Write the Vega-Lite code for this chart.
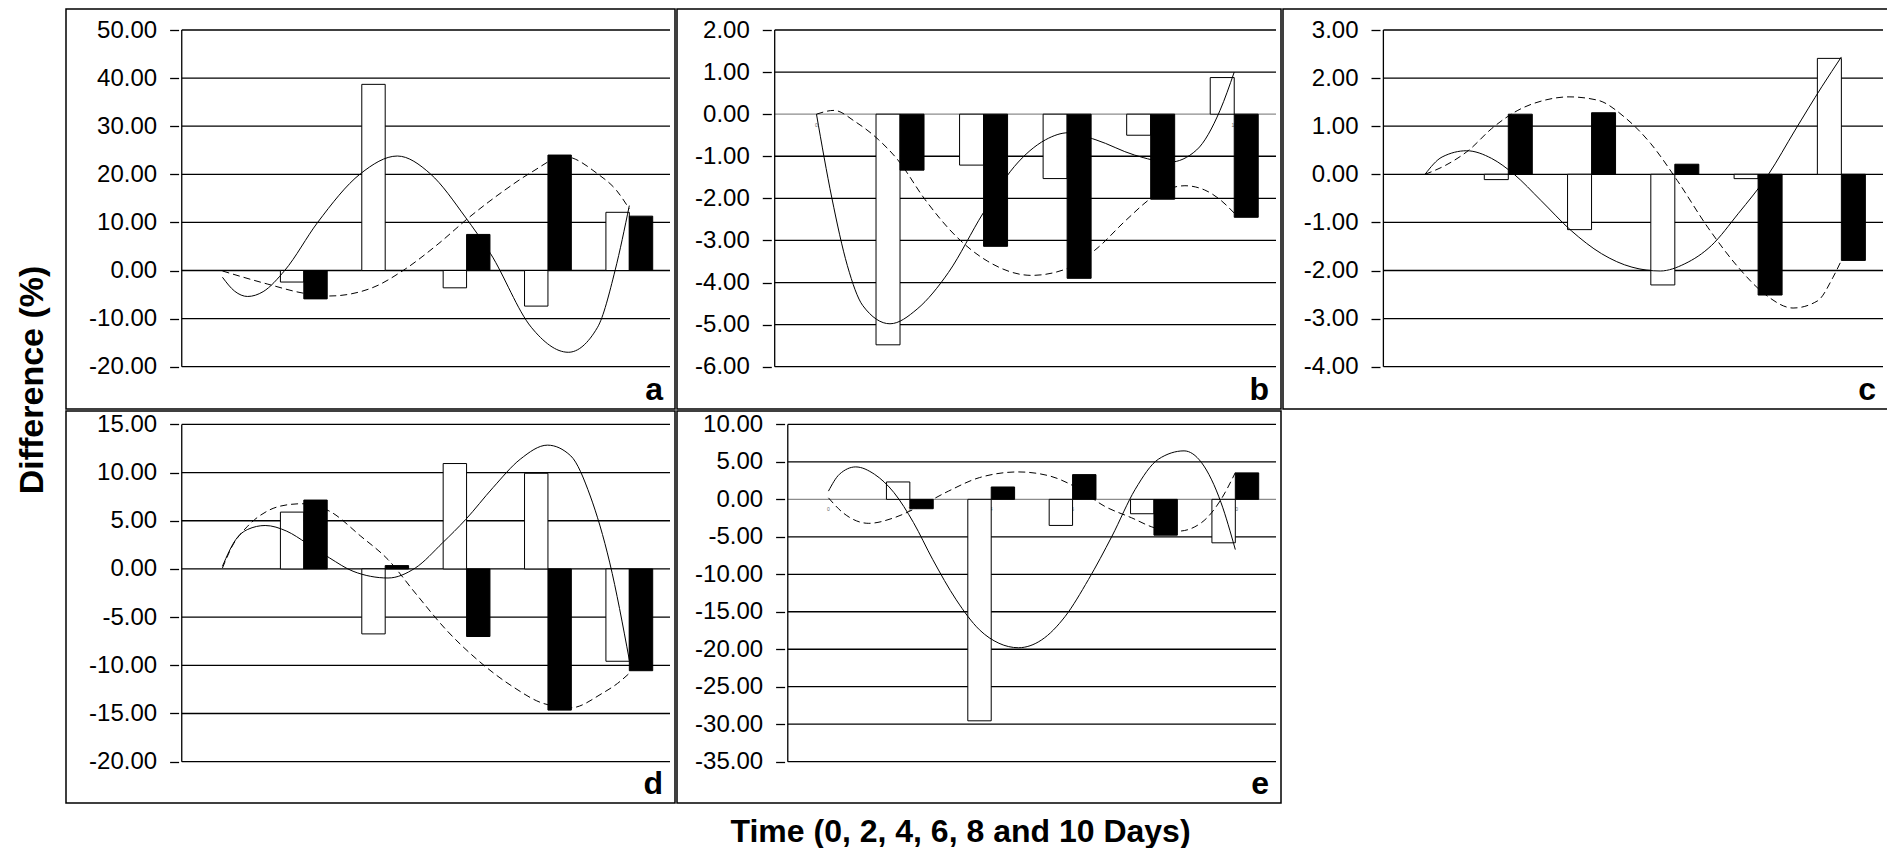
{
  "$schema": "https://vega.github.io/schema/vega-lite/v6.json",
  "background": "white",
  "padding": {"left": 16, "top": 8, "right": 0, "bottom": 0},
  "autosize": {"type": "pad"},
  "title": {"text": "Time (0, 2, 4, 6, 8 and 10 Days)", "orient": "bottom", "anchor": "middle", "fontSize": 32, "fontWeight": "bold", "font": "Liberation Sans", "color": "black", "offset": 13, "dx": 8},
  "datasets": {
    "bars": [
      {"panel": "a", "day": 2, "series": "white", "value": -2.4},
      {"panel": "a", "day": 2, "series": "black", "value": -5.9},
      {"panel": "a", "day": 4, "series": "white", "value": 38.7},
      {"panel": "a", "day": 6, "series": "white", "value": -3.6},
      {"panel": "a", "day": 6, "series": "black", "value": 7.5},
      {"panel": "a", "day": 8, "series": "white", "value": -7.4},
      {"panel": "a", "day": 8, "series": "black", "value": 24.0},
      {"panel": "a", "day": 10, "series": "white", "value": 12.1},
      {"panel": "a", "day": 10, "series": "black", "value": 11.3},
      {"panel": "b", "day": 2, "series": "white", "value": -5.48},
      {"panel": "b", "day": 2, "series": "black", "value": -1.33},
      {"panel": "b", "day": 4, "series": "white", "value": -1.21},
      {"panel": "b", "day": 4, "series": "black", "value": -3.14},
      {"panel": "b", "day": 6, "series": "white", "value": -1.53},
      {"panel": "b", "day": 6, "series": "black", "value": -3.9},
      {"panel": "b", "day": 8, "series": "white", "value": -0.5},
      {"panel": "b", "day": 8, "series": "black", "value": -2.02},
      {"panel": "b", "day": 10, "series": "white", "value": 0.87},
      {"panel": "b", "day": 10, "series": "black", "value": -2.45},
      {"panel": "c", "day": 2, "series": "white", "value": -0.11},
      {"panel": "c", "day": 2, "series": "black", "value": 1.25},
      {"panel": "c", "day": 4, "series": "white", "value": -1.15},
      {"panel": "c", "day": 4, "series": "black", "value": 1.28},
      {"panel": "c", "day": 6, "series": "white", "value": -2.3},
      {"panel": "c", "day": 6, "series": "black", "value": 0.21},
      {"panel": "c", "day": 8, "series": "white", "value": -0.09},
      {"panel": "c", "day": 8, "series": "black", "value": -2.51},
      {"panel": "c", "day": 10, "series": "white", "value": 2.41},
      {"panel": "c", "day": 10, "series": "black", "value": -1.79},
      {"panel": "d", "day": 2, "series": "white", "value": 5.9},
      {"panel": "d", "day": 2, "series": "black", "value": 7.15},
      {"panel": "d", "day": 4, "series": "white", "value": -6.74},
      {"panel": "d", "day": 4, "series": "black", "value": 0.35},
      {"panel": "d", "day": 6, "series": "white", "value": 10.94},
      {"panel": "d", "day": 6, "series": "black", "value": -7.01},
      {"panel": "d", "day": 8, "series": "white", "value": 9.93},
      {"panel": "d", "day": 8, "series": "black", "value": -14.65},
      {"panel": "d", "day": 10, "series": "white", "value": -9.58},
      {"panel": "d", "day": 10, "series": "black", "value": -10.56},
      {"panel": "e", "day": 2, "series": "white", "value": 2.32},
      {"panel": "e", "day": 2, "series": "black", "value": -1.25},
      {"panel": "e", "day": 4, "series": "white", "value": -29.55},
      {"panel": "e", "day": 4, "series": "black", "value": 1.65},
      {"panel": "e", "day": 6, "series": "white", "value": -3.48},
      {"panel": "e", "day": 6, "series": "black", "value": 3.3},
      {"panel": "e", "day": 8, "series": "white", "value": -1.92},
      {"panel": "e", "day": 8, "series": "black", "value": -4.78},
      {"panel": "e", "day": 10, "series": "white", "value": -5.8},
      {"panel": "e", "day": 10, "series": "black", "value": 3.53}
    ],
    "curves": [
      {"panel": "a", "curve": "solid", "day": 0, "value": -1.4},
      {"panel": "a", "curve": "solid", "day": 0.3, "value": -4.3},
      {"panel": "a", "curve": "solid", "day": 0.62, "value": -5.4},
      {"panel": "a", "curve": "solid", "day": 1.0, "value": -4.4},
      {"panel": "a", "curve": "solid", "day": 1.53, "value": 0},
      {"panel": "a", "curve": "solid", "day": 2.34, "value": 10},
      {"panel": "a", "curve": "solid", "day": 3.39, "value": 20.1},
      {"panel": "a", "curve": "solid", "day": 4.3, "value": 23.8},
      {"panel": "a", "curve": "solid", "day": 5.11, "value": 20.1},
      {"panel": "a", "curve": "solid", "day": 5.97, "value": 11.1},
      {"panel": "a", "curve": "solid", "day": 6.59, "value": 3.5},
      {"panel": "a", "curve": "solid", "day": 7.59, "value": -11.8},
      {"panel": "a", "curve": "solid", "day": 8.5, "value": -17.0},
      {"panel": "a", "curve": "solid", "day": 9.22, "value": -11.8},
      {"panel": "a", "curve": "solid", "day": 9.65, "value": 0},
      {"panel": "a", "curve": "solid", "day": 10, "value": 13.5},
      {"panel": "a", "curve": "dashed", "day": 0, "value": -0.1},
      {"panel": "a", "curve": "dashed", "day": 1.1, "value": -2.8},
      {"panel": "a", "curve": "dashed", "day": 2.05, "value": -4.8},
      {"panel": "a", "curve": "dashed", "day": 2.63, "value": -5.3},
      {"panel": "a", "curve": "dashed", "day": 3.68, "value": -3.6},
      {"panel": "a", "curve": "dashed", "day": 4.44, "value": 0},
      {"panel": "a", "curve": "dashed", "day": 5.3, "value": 5.5},
      {"panel": "a", "curve": "dashed", "day": 6.07, "value": 11.1},
      {"panel": "a", "curve": "dashed", "day": 6.92, "value": 16.6},
      {"panel": "a", "curve": "dashed", "day": 7.59, "value": 20.4},
      {"panel": "a", "curve": "dashed", "day": 8.4, "value": 23.7},
      {"panel": "a", "curve": "dashed", "day": 9.22, "value": 20.1},
      {"panel": "a", "curve": "dashed", "day": 9.69, "value": 16.6},
      {"panel": "a", "curve": "dashed", "day": 10, "value": 12.8},
      {"panel": "b", "curve": "solid", "day": 0, "value": 0},
      {"panel": "b", "curve": "solid", "day": 0.37, "value": -2.0},
      {"panel": "b", "curve": "solid", "day": 0.74, "value": -3.6},
      {"panel": "b", "curve": "solid", "day": 1.11, "value": -4.55},
      {"panel": "b", "curve": "solid", "day": 1.76, "value": -4.98},
      {"panel": "b", "curve": "solid", "day": 2.41, "value": -4.63},
      {"panel": "b", "curve": "solid", "day": 3.16, "value": -3.76},
      {"panel": "b", "curve": "solid", "day": 3.99, "value": -2.35},
      {"panel": "b", "curve": "solid", "day": 4.74, "value": -1.24},
      {"panel": "b", "curve": "solid", "day": 5.48, "value": -0.61},
      {"panel": "b", "curve": "solid", "day": 6.04, "value": -0.44},
      {"panel": "b", "curve": "solid", "day": 6.69, "value": -0.61},
      {"panel": "b", "curve": "solid", "day": 7.61, "value": -0.97},
      {"panel": "b", "curve": "solid", "day": 8.45, "value": -1.14},
      {"panel": "b", "curve": "solid", "day": 9.1, "value": -0.85},
      {"panel": "b", "curve": "solid", "day": 9.66, "value": 0.09},
      {"panel": "b", "curve": "solid", "day": 10, "value": 1.0},
      {"panel": "b", "curve": "dashed", "day": 0, "value": 0},
      {"panel": "b", "curve": "dashed", "day": 0.42, "value": 0.09},
      {"panel": "b", "curve": "dashed", "day": 0.93, "value": -0.18},
      {"panel": "b", "curve": "dashed", "day": 1.49, "value": -0.61},
      {"panel": "b", "curve": "dashed", "day": 1.95, "value": -1.09},
      {"panel": "b", "curve": "dashed", "day": 2.6, "value": -2.03},
      {"panel": "b", "curve": "dashed", "day": 3.34, "value": -2.9},
      {"panel": "b", "curve": "dashed", "day": 4.09, "value": -3.49},
      {"panel": "b", "curve": "dashed", "day": 5.15, "value": -3.83},
      {"panel": "b", "curve": "dashed", "day": 5.94, "value": -3.69},
      {"panel": "b", "curve": "dashed", "day": 6.69, "value": -3.21},
      {"panel": "b", "curve": "dashed", "day": 7.43, "value": -2.5},
      {"panel": "b", "curve": "dashed", "day": 8.08, "value": -1.95},
      {"panel": "b", "curve": "dashed", "day": 8.82, "value": -1.7},
      {"panel": "b", "curve": "dashed", "day": 9.29, "value": -1.8},
      {"panel": "b", "curve": "dashed", "day": 9.66, "value": -2.03},
      {"panel": "b", "curve": "dashed", "day": 10, "value": -2.35},
      {"panel": "c", "curve": "solid", "day": 0, "value": 0},
      {"panel": "c", "curve": "solid", "day": 0.41, "value": 0.36},
      {"panel": "c", "curve": "solid", "day": 1.0, "value": 0.49},
      {"panel": "c", "curve": "solid", "day": 1.6, "value": 0.33},
      {"panel": "c", "curve": "solid", "day": 2.14, "value": 0},
      {"panel": "c", "curve": "solid", "day": 2.78, "value": -0.54},
      {"panel": "c", "curve": "solid", "day": 3.51, "value": -1.17},
      {"panel": "c", "curve": "solid", "day": 4.24, "value": -1.65},
      {"panel": "c", "curve": "solid", "day": 4.97, "value": -1.93},
      {"panel": "c", "curve": "solid", "day": 5.65, "value": -2.01},
      {"panel": "c", "curve": "solid", "day": 6.24, "value": -1.86},
      {"panel": "c", "curve": "solid", "day": 6.88, "value": -1.48},
      {"panel": "c", "curve": "solid", "day": 7.52, "value": -0.82},
      {"panel": "c", "curve": "solid", "day": 8.25, "value": 0},
      {"panel": "c", "curve": "solid", "day": 8.89, "value": 0.92},
      {"panel": "c", "curve": "solid", "day": 9.53, "value": 1.82},
      {"panel": "c", "curve": "solid", "day": 10, "value": 2.44},
      {"panel": "c", "curve": "dashed", "day": 0, "value": 0},
      {"panel": "c", "curve": "dashed", "day": 0.5, "value": 0.19},
      {"panel": "c", "curve": "dashed", "day": 1.05, "value": 0.5},
      {"panel": "c", "curve": "dashed", "day": 1.6, "value": 0.95},
      {"panel": "c", "curve": "dashed", "day": 2.23, "value": 1.33},
      {"panel": "c", "curve": "dashed", "day": 2.87, "value": 1.54},
      {"panel": "c", "curve": "dashed", "day": 3.46, "value": 1.61},
      {"panel": "c", "curve": "dashed", "day": 4.15, "value": 1.54},
      {"panel": "c", "curve": "dashed", "day": 4.79, "value": 1.19},
      {"panel": "c", "curve": "dashed", "day": 5.42, "value": 0.64},
      {"panel": "c", "curve": "dashed", "day": 6.06, "value": -0.13},
      {"panel": "c", "curve": "dashed", "day": 6.79, "value": -1.1},
      {"panel": "c", "curve": "dashed", "day": 7.52, "value": -1.93},
      {"panel": "c", "curve": "dashed", "day": 8.16, "value": -2.49},
      {"panel": "c", "curve": "dashed", "day": 8.84, "value": -2.78},
      {"panel": "c", "curve": "dashed", "day": 9.43, "value": -2.63},
      {"panel": "c", "curve": "dashed", "day": 9.8, "value": -2.14},
      {"panel": "c", "curve": "dashed", "day": 10, "value": -1.79},
      {"panel": "d", "curve": "solid", "day": 0, "value": 0.28},
      {"panel": "d", "curve": "solid", "day": 0.33, "value": 3.06},
      {"panel": "d", "curve": "solid", "day": 0.62, "value": 4.1},
      {"panel": "d", "curve": "solid", "day": 1.05, "value": 4.51},
      {"panel": "d", "curve": "solid", "day": 1.58, "value": 3.92},
      {"panel": "d", "curve": "solid", "day": 2.06, "value": 2.71},
      {"panel": "d", "curve": "solid", "day": 2.63, "value": 1.15},
      {"panel": "d", "curve": "solid", "day": 3.21, "value": -0.24},
      {"panel": "d", "curve": "solid", "day": 4.07, "value": -0.94},
      {"panel": "d", "curve": "solid", "day": 4.74, "value": 0.1},
      {"panel": "d", "curve": "solid", "day": 5.41, "value": 2.71},
      {"panel": "d", "curve": "solid", "day": 5.98, "value": 5.14},
      {"panel": "d", "curve": "solid", "day": 6.65, "value": 8.44},
      {"panel": "d", "curve": "solid", "day": 7.32, "value": 11.39},
      {"panel": "d", "curve": "solid", "day": 7.99, "value": 12.85},
      {"panel": "d", "curve": "solid", "day": 8.56, "value": 11.74},
      {"panel": "d", "curve": "solid", "day": 9.04, "value": 7.57},
      {"panel": "d", "curve": "solid", "day": 9.52, "value": 0.63},
      {"panel": "d", "curve": "solid", "day": 10, "value": -9.44},
      {"panel": "d", "curve": "dashed", "day": 0, "value": 0.1},
      {"panel": "d", "curve": "dashed", "day": 0.24, "value": 2.36},
      {"panel": "d", "curve": "dashed", "day": 0.62, "value": 4.44},
      {"panel": "d", "curve": "dashed", "day": 1.1, "value": 6.0},
      {"panel": "d", "curve": "dashed", "day": 1.67, "value": 6.7},
      {"panel": "d", "curve": "dashed", "day": 1.96, "value": 6.77},
      {"panel": "d", "curve": "dashed", "day": 2.63, "value": 6.0},
      {"panel": "d", "curve": "dashed", "day": 3.4, "value": 3.4},
      {"panel": "d", "curve": "dashed", "day": 4.07, "value": 0.97},
      {"panel": "d", "curve": "dashed", "day": 4.74, "value": -2.5},
      {"panel": "d", "curve": "dashed", "day": 5.5, "value": -6.32},
      {"panel": "d", "curve": "dashed", "day": 6.27, "value": -9.44},
      {"panel": "d", "curve": "dashed", "day": 7.13, "value": -12.2},
      {"panel": "d", "curve": "dashed", "day": 7.89, "value": -13.96},
      {"panel": "d", "curve": "dashed", "day": 8.56, "value": -14.41},
      {"panel": "d", "curve": "dashed", "day": 9.33, "value": -12.92},
      {"panel": "d", "curve": "dashed", "day": 9.71, "value": -11.88},
      {"panel": "d", "curve": "dashed", "day": 10, "value": -10.83},
      {"panel": "e", "curve": "solid", "day": 0, "value": 1.1},
      {"panel": "e", "curve": "solid", "day": 0.27, "value": 3.35},
      {"panel": "e", "curve": "solid", "day": 0.67, "value": 4.33},
      {"panel": "e", "curve": "solid", "day": 1.13, "value": 3.35},
      {"panel": "e", "curve": "solid", "day": 1.61, "value": 0.9},
      {"panel": "e", "curve": "solid", "day": 2.09, "value": -3.1},
      {"panel": "e", "curve": "solid", "day": 2.56, "value": -8.0},
      {"panel": "e", "curve": "solid", "day": 3.14, "value": -13.4},
      {"panel": "e", "curve": "solid", "day": 3.71, "value": -17.4},
      {"panel": "e", "curve": "solid", "day": 4.19, "value": -19.2},
      {"panel": "e", "curve": "solid", "day": 4.67, "value": -19.8},
      {"panel": "e", "curve": "solid", "day": 5.24, "value": -18.75},
      {"panel": "e", "curve": "solid", "day": 5.82, "value": -15.6},
      {"panel": "e", "curve": "solid", "day": 6.39, "value": -10.7},
      {"panel": "e", "curve": "solid", "day": 6.97, "value": -4.9},
      {"panel": "e", "curve": "solid", "day": 7.54, "value": 1.34},
      {"panel": "e", "curve": "solid", "day": 8.11, "value": 5.36},
      {"panel": "e", "curve": "solid", "day": 8.74, "value": 6.47},
      {"panel": "e", "curve": "solid", "day": 9.17, "value": 4.9},
      {"panel": "e", "curve": "solid", "day": 9.65, "value": -0.45},
      {"panel": "e", "curve": "solid", "day": 10, "value": -6.7},
      {"panel": "e", "curve": "dashed", "day": 0, "value": 0.2},
      {"panel": "e", "curve": "dashed", "day": 0.36, "value": -1.8},
      {"panel": "e", "curve": "dashed", "day": 0.99, "value": -3.2},
      {"panel": "e", "curve": "dashed", "day": 1.61, "value": -2.46},
      {"panel": "e", "curve": "dashed", "day": 2.18, "value": -1.1},
      {"panel": "e", "curve": "dashed", "day": 2.95, "value": 1.1},
      {"panel": "e", "curve": "dashed", "day": 3.71, "value": 2.9},
      {"panel": "e", "curve": "dashed", "day": 4.67, "value": 3.66},
      {"panel": "e", "curve": "dashed", "day": 5.43, "value": 3.13},
      {"panel": "e", "curve": "dashed", "day": 6.1, "value": 1.56},
      {"panel": "e", "curve": "dashed", "day": 6.78, "value": -0.9},
      {"panel": "e", "curve": "dashed", "day": 7.45, "value": -2.46},
      {"panel": "e", "curve": "dashed", "day": 8.02, "value": -3.8},
      {"panel": "e", "curve": "dashed", "day": 8.6, "value": -4.24},
      {"panel": "e", "curve": "dashed", "day": 9.17, "value": -3.1},
      {"panel": "e", "curve": "dashed", "day": 9.65, "value": 0},
      {"panel": "e", "curve": "dashed", "day": 10, "value": 3.57}
    ],
    "grid": [
      {"panel": "a", "value": -20}, {"panel": "a", "value": -10}, {"panel": "a", "value": 0}, {"panel": "a", "value": 10}, {"panel": "a", "value": 20}, {"panel": "a", "value": 30}, {"panel": "a", "value": 40}, {"panel": "a", "value": 50},
      {"panel": "b", "value": -6}, {"panel": "b", "value": -5}, {"panel": "b", "value": -4}, {"panel": "b", "value": -3}, {"panel": "b", "value": -2}, {"panel": "b", "value": -1}, {"panel": "b", "value": 0}, {"panel": "b", "value": 1}, {"panel": "b", "value": 2},
      {"panel": "c", "value": -4}, {"panel": "c", "value": -3}, {"panel": "c", "value": -2}, {"panel": "c", "value": -1}, {"panel": "c", "value": 0}, {"panel": "c", "value": 1}, {"panel": "c", "value": 2}, {"panel": "c", "value": 3},
      {"panel": "d", "value": -20}, {"panel": "d", "value": -15}, {"panel": "d", "value": -10}, {"panel": "d", "value": -5}, {"panel": "d", "value": 0}, {"panel": "d", "value": 5}, {"panel": "d", "value": 10}, {"panel": "d", "value": 15},
      {"panel": "e", "value": -35}, {"panel": "e", "value": -30}, {"panel": "e", "value": -25}, {"panel": "e", "value": -20}, {"panel": "e", "value": -15}, {"panel": "e", "value": -10}, {"panel": "e", "value": -5}, {"panel": "e", "value": 0}, {"panel": "e", "value": 5}, {"panel": "e", "value": 10}
    ],
    "days": [{"day": 0, "label": "0"}, {"day": 2, "label": "2"}, {"day": 4, "label": "4"}, {"day": 6, "label": "6"}, {"day": 8, "label": "8"}, {"day": 10, "label": "10"}]
  },
  "vconcat": [
    {
      "title": {"text": "Difference (%)", "orient": "left", "anchor": "middle", "fontSize": 34, "fontWeight": "bold", "font": "Liberation Sans", "color": "black", "offset": 15, "dx": 26},
      "spacing": 0,
      "vconcat": [
        {
          "spacing": 0,
          "hconcat": [
            {
              "width": 609, "height": 400,
              "layer": [
                {"data": {"name": "grid"}, "transform": [{"filter": "datum.panel === 'a'"}],
                 "mark": {"type": "rule", "color": "black", "strokeWidth": 1.3},
                 "encoding": {
                   "x": {"datum": -1, "type": "quantitative", "scale": {"domain": [-3.722, 11], "nice": false, "zero": false}, "axis": null},
                   "x2": {"datum": 11},
                   "y": {"field": "value", "type": "quantitative", "scale": {"domain": [-28.794, 54.366], "nice": false, "zero": false},
                         "axis": {"values": [-20, -10, 0, 10, 20, 30, 40, 50], "labelExpr": "replace(format(datum.value, '.2f'), '\u2212', '-')", "offset": -112.6, "domain": false, "grid": false, "title": null, "tickSize": 9, "labelPadding": 13}}
                 }},
                {"data": {"values": [{"k": 1}]},
                 "mark": {"type": "rule", "color": "black", "strokeWidth": 1.3},
                 "encoding": {"x": {"datum": -1, "type": "quantitative"}, "y": {"datum": -20, "type": "quantitative"}, "y2": {"datum": 50}}},
                {"data": {"name": "bars"}, "transform": [{"filter": "datum.panel === 'a' && datum.series === 'white'"}],
                 "mark": {"type": "bar", "orient": "vertical", "width": 23.4, "xOffset": -11.7, "fill": "white", "stroke": "black", "strokeWidth": 1},
                 "encoding": {"x": {"field": "day", "type": "quantitative"}, "y": {"field": "value", "type": "quantitative"}, "y2": {"datum": 0}}},
                {"data": {"name": "bars"}, "transform": [{"filter": "datum.panel === 'a' && datum.series === 'black'"}],
                 "mark": {"type": "bar", "orient": "vertical", "width": 23.4, "xOffset": 11.7, "fill": "black", "stroke": "black", "strokeWidth": 1},
                 "encoding": {"x": {"field": "day", "type": "quantitative"}, "y": {"field": "value", "type": "quantitative"}, "y2": {"datum": 0}}},
                {"data": {"name": "curves"}, "transform": [{"filter": "datum.panel === 'a' && datum.curve === 'solid'"}],
                 "mark": {"type": "line", "interpolate": "monotone", "color": "black", "strokeWidth": 1},
                 "encoding": {"x": {"field": "day", "type": "quantitative"}, "y": {"field": "value", "type": "quantitative"}}},
                {"data": {"name": "curves"}, "transform": [{"filter": "datum.panel === 'a' && datum.curve === 'dashed'"}],
                 "mark": {"type": "line", "interpolate": "monotone", "color": "black", "strokeWidth": 1, "strokeDash": [7, 4]},
                 "encoding": {"x": {"field": "day", "type": "quantitative"}, "y": {"field": "value", "type": "quantitative"}}},
                {"data": {"values": [{"label": "a"}]},
                 "mark": {"type": "text", "align": "right", "baseline": "alphabetic", "dx": -7, "dy": -9, "fontSize": 32, "fontWeight": "bold", "font": "Liberation Sans", "color": "black"},
                 "encoding": {"x": {"datum": 11, "type": "quantitative"}, "y": {"datum": -28.794, "type": "quantitative"}, "text": {"field": "label"}}}
              ]
            },
            {
              "width": 604, "height": 400,
              "layer": [
                {"data": {"name": "grid"}, "transform": [{"filter": "datum.panel === 'b'"}],
                 "mark": {"type": "rule", "strokeWidth": 1.3},
                 "encoding": {
                   "x": {"datum": -1, "type": "quantitative", "scale": {"domain": [-3.219, 11], "nice": false, "zero": false}, "axis": null},
                   "x2": {"datum": 11},
                   "y": {"field": "value", "type": "quantitative", "scale": {"domain": [-7.005, 2.499], "nice": false, "zero": false},
                         "axis": {"values": [-6, -5, -4, -3, -2, -1, 0, 1, 2], "labelExpr": "replace(format(datum.value, '.2f'), '\u2212', '-')", "offset": -94.3, "domain": false, "grid": false, "title": null, "tickSize": 9, "labelPadding": 13}},
                   "color": {"condition": {"test": "datum.value === 0", "value": "#8c8c8c"}, "value": "black"}
                 }},
                {"data": {"values": [{"k": 1}]},
                 "mark": {"type": "rule", "color": "black", "strokeWidth": 1.3},
                 "encoding": {"x": {"datum": -1, "type": "quantitative"}, "y": {"datum": -6, "type": "quantitative"}, "y2": {"datum": 2}}},
                {"data": {"name": "days"},
                 "mark": {"type": "text", "baseline": "middle", "align": "center", "dy": 11, "fontSize": 5, "font": "Liberation Sans", "color": "#666666"},
                 "encoding": {"x": {"field": "day", "type": "quantitative"}, "y": {"datum": 0, "type": "quantitative"}, "text": {"field": "label"}}},
                {"data": {"name": "bars"}, "transform": [{"filter": "datum.panel === 'b' && datum.series === 'white'"}],
                 "mark": {"type": "bar", "orient": "vertical", "width": 24, "xOffset": -12, "fill": "white", "stroke": "black", "strokeWidth": 1},
                 "encoding": {"x": {"field": "day", "type": "quantitative"}, "y": {"field": "value", "type": "quantitative"}, "y2": {"datum": 0}}},
                {"data": {"name": "bars"}, "transform": [{"filter": "datum.panel === 'b' && datum.series === 'black'"}],
                 "mark": {"type": "bar", "orient": "vertical", "width": 24, "xOffset": 12, "fill": "black", "stroke": "black", "strokeWidth": 1},
                 "encoding": {"x": {"field": "day", "type": "quantitative"}, "y": {"field": "value", "type": "quantitative"}, "y2": {"datum": 0}}},
                {"data": {"name": "curves"}, "transform": [{"filter": "datum.panel === 'b' && datum.curve === 'solid'"}],
                 "mark": {"type": "line", "interpolate": "monotone", "color": "black", "strokeWidth": 1},
                 "encoding": {"x": {"field": "day", "type": "quantitative"}, "y": {"field": "value", "type": "quantitative"}}},
                {"data": {"name": "curves"}, "transform": [{"filter": "datum.panel === 'b' && datum.curve === 'dashed'"}],
                 "mark": {"type": "line", "interpolate": "monotone", "color": "black", "strokeWidth": 1, "strokeDash": [7, 4]},
                 "encoding": {"x": {"field": "day", "type": "quantitative"}, "y": {"field": "value", "type": "quantitative"}}},
                {"data": {"values": [{"label": "b"}]},
                 "mark": {"type": "text", "align": "right", "baseline": "alphabetic", "dx": -7, "dy": -9, "fontSize": 32, "fontWeight": "bold", "font": "Liberation Sans", "color": "black"},
                 "encoding": {"x": {"datum": 11, "type": "quantitative"}, "y": {"datum": -7.005, "type": "quantitative"}, "text": {"field": "label"}}}
              ]
            },
            {
              "width": 605, "height": 400,
              "layer": [
                {"data": {"name": "grid"}, "transform": [{"filter": "datum.panel === 'c'"}],
                 "mark": {"type": "rule", "color": "black", "strokeWidth": 1.3},
                 "encoding": {
                   "x": {"datum": -1, "type": "quantitative", "scale": {"domain": [-3.291, 11], "nice": false, "zero": false}, "axis": null},
                   "x2": {"datum": 11},
                   "y": {"field": "value", "type": "quantitative", "scale": {"domain": [-4.879, 3.4366], "nice": false, "zero": false},
                         "axis": {"values": [-4, -3, -2, -1, 0, 1, 2, 3], "labelExpr": "replace(format(datum.value, '.2f'), '\u2212', '-')", "offset": -97, "domain": false, "grid": false, "title": null, "tickSize": 9, "labelPadding": 13}}
                 }},
                {"data": {"values": [{"k": 1}]},
                 "mark": {"type": "rule", "color": "black", "strokeWidth": 1.3},
                 "encoding": {"x": {"datum": -1, "type": "quantitative"}, "y": {"datum": -4, "type": "quantitative"}, "y2": {"datum": 3}}},
                {"data": {"name": "bars"}, "transform": [{"filter": "datum.panel === 'c' && datum.series === 'white'"}],
                 "mark": {"type": "bar", "orient": "vertical", "width": 24, "xOffset": -12, "fill": "white", "stroke": "black", "strokeWidth": 1},
                 "encoding": {"x": {"field": "day", "type": "quantitative"}, "y": {"field": "value", "type": "quantitative"}, "y2": {"datum": 0}}},
                {"data": {"name": "bars"}, "transform": [{"filter": "datum.panel === 'c' && datum.series === 'black'"}],
                 "mark": {"type": "bar", "orient": "vertical", "width": 24, "xOffset": 12, "fill": "black", "stroke": "black", "strokeWidth": 1},
                 "encoding": {"x": {"field": "day", "type": "quantitative"}, "y": {"field": "value", "type": "quantitative"}, "y2": {"datum": 0}}},
                {"data": {"name": "curves"}, "transform": [{"filter": "datum.panel === 'c' && datum.curve === 'solid'"}],
                 "mark": {"type": "line", "interpolate": "monotone", "color": "black", "strokeWidth": 1},
                 "encoding": {"x": {"field": "day", "type": "quantitative"}, "y": {"field": "value", "type": "quantitative"}}},
                {"data": {"name": "curves"}, "transform": [{"filter": "datum.panel === 'c' && datum.curve === 'dashed'"}],
                 "mark": {"type": "line", "interpolate": "monotone", "color": "black", "strokeWidth": 1, "strokeDash": [7, 4]},
                 "encoding": {"x": {"field": "day", "type": "quantitative"}, "y": {"field": "value", "type": "quantitative"}}},
                {"data": {"values": [{"label": "c"}]},
                 "mark": {"type": "text", "align": "right", "baseline": "alphabetic", "dx": -7, "dy": -9, "fontSize": 32, "fontWeight": "bold", "font": "Liberation Sans", "color": "black"},
                 "encoding": {"x": {"datum": 11, "type": "quantitative"}, "y": {"datum": -4.879, "type": "quantitative"}, "text": {"field": "label"}}}
              ]
            }
          ]
        },
        {
          "spacing": 0,
          "hconcat": [
            {
              "width": 609, "height": 392,
              "layer": [
                {"data": {"name": "grid"}, "transform": [{"filter": "datum.panel === 'd'"}],
                 "mark": {"type": "rule", "color": "black", "strokeWidth": 1.3},
                 "encoding": {
                   "x": {"datum": -1, "type": "quantitative", "scale": {"domain": [-3.722, 11], "nice": false, "zero": false}, "axis": null},
                   "x2": {"datum": 11},
                   "y": {"field": "value", "type": "quantitative", "scale": {"domain": [-24.289, 16.392], "nice": false, "zero": false},
                         "axis": {"values": [-20, -15, -10, -5, 0, 5, 10, 15], "labelExpr": "replace(format(datum.value, '.2f'), '\u2212', '-')", "offset": -112.6, "domain": false, "grid": false, "title": null, "tickSize": 9, "labelPadding": 13}}
                 }},
                {"data": {"values": [{"k": 1}]},
                 "mark": {"type": "rule", "color": "black", "strokeWidth": 1.3},
                 "encoding": {"x": {"datum": -1, "type": "quantitative"}, "y": {"datum": -20, "type": "quantitative"}, "y2": {"datum": 15}}},
                {"data": {"name": "bars"}, "transform": [{"filter": "datum.panel === 'd' && datum.series === 'white'"}],
                 "mark": {"type": "bar", "orient": "vertical", "width": 23.4, "xOffset": -11.7, "fill": "white", "stroke": "black", "strokeWidth": 1},
                 "encoding": {"x": {"field": "day", "type": "quantitative"}, "y": {"field": "value", "type": "quantitative"}, "y2": {"datum": 0}}},
                {"data": {"name": "bars"}, "transform": [{"filter": "datum.panel === 'd' && datum.series === 'black'"}],
                 "mark": {"type": "bar", "orient": "vertical", "width": 23.4, "xOffset": 11.7, "fill": "black", "stroke": "black", "strokeWidth": 1},
                 "encoding": {"x": {"field": "day", "type": "quantitative"}, "y": {"field": "value", "type": "quantitative"}, "y2": {"datum": 0}}},
                {"data": {"name": "curves"}, "transform": [{"filter": "datum.panel === 'd' && datum.curve === 'solid'"}],
                 "mark": {"type": "line", "interpolate": "monotone", "color": "black", "strokeWidth": 1},
                 "encoding": {"x": {"field": "day", "type": "quantitative"}, "y": {"field": "value", "type": "quantitative"}}},
                {"data": {"name": "curves"}, "transform": [{"filter": "datum.panel === 'd' && datum.curve === 'dashed'"}],
                 "mark": {"type": "line", "interpolate": "monotone", "color": "black", "strokeWidth": 1, "strokeDash": [7, 4]},
                 "encoding": {"x": {"field": "day", "type": "quantitative"}, "y": {"field": "value", "type": "quantitative"}}},
                {"data": {"values": [{"label": "d"}]},
                 "mark": {"type": "text", "align": "right", "baseline": "alphabetic", "dx": -7, "dy": -9, "fontSize": 32, "fontWeight": "bold", "font": "Liberation Sans", "color": "black"},
                 "encoding": {"x": {"datum": 11, "type": "quantitative"}, "y": {"datum": -24.289, "type": "quantitative"}, "text": {"field": "label"}}}
              ]
            },
            {
              "width": 604, "height": 392,
              "layer": [
                {"data": {"name": "grid"}, "transform": [{"filter": "datum.panel === 'e'"}],
                 "mark": {"type": "rule", "strokeWidth": 1.3},
                 "encoding": {
                   "x": {"datum": -1, "type": "quantitative", "scale": {"domain": [-3.6, 11], "nice": false, "zero": false}, "axis": null},
                   "x2": {"datum": 11},
                   "y": {"field": "value", "type": "quantitative", "scale": {"domain": [-40.515, 11.789], "nice": false, "zero": false},
                         "axis": {"values": [-35, -30, -25, -20, -15, -10, -5, 0, 5, 10], "labelExpr": "replace(format(datum.value, '.2f'), '\u2212', '-')", "offset": -107.6, "domain": false, "grid": false, "title": null, "tickSize": 9, "labelPadding": 13}},
                   "color": {"condition": {"test": "datum.value === 0", "value": "#8c8c8c"}, "value": "black"}
                 }},
                {"data": {"values": [{"k": 1}]},
                 "mark": {"type": "rule", "color": "black", "strokeWidth": 1.3},
                 "encoding": {"x": {"datum": -1, "type": "quantitative"}, "y": {"datum": -35, "type": "quantitative"}, "y2": {"datum": 10}}},
                {"data": {"name": "days"},
                 "mark": {"type": "text", "baseline": "middle", "align": "center", "dy": 10, "fontSize": 5, "font": "Liberation Sans", "color": "#666666"},
                 "encoding": {"x": {"field": "day", "type": "quantitative"}, "y": {"datum": 0, "type": "quantitative"}, "text": {"field": "label"}}},
                {"data": {"name": "bars"}, "transform": [{"filter": "datum.panel === 'e' && datum.series === 'white'"}],
                 "mark": {"type": "bar", "orient": "vertical", "width": 23.4, "xOffset": -11.7, "fill": "white", "stroke": "black", "strokeWidth": 1},
                 "encoding": {"x": {"field": "day", "type": "quantitative"}, "y": {"field": "value", "type": "quantitative"}, "y2": {"datum": 0}}},
                {"data": {"name": "bars"}, "transform": [{"filter": "datum.panel === 'e' && datum.series === 'black'"}],
                 "mark": {"type": "bar", "orient": "vertical", "width": 23.4, "xOffset": 11.7, "fill": "black", "stroke": "black", "strokeWidth": 1},
                 "encoding": {"x": {"field": "day", "type": "quantitative"}, "y": {"field": "value", "type": "quantitative"}, "y2": {"datum": 0}}},
                {"data": {"name": "curves"}, "transform": [{"filter": "datum.panel === 'e' && datum.curve === 'solid'"}],
                 "mark": {"type": "line", "interpolate": "monotone", "color": "black", "strokeWidth": 1},
                 "encoding": {"x": {"field": "day", "type": "quantitative"}, "y": {"field": "value", "type": "quantitative"}}},
                {"data": {"name": "curves"}, "transform": [{"filter": "datum.panel === 'e' && datum.curve === 'dashed'"}],
                 "mark": {"type": "line", "interpolate": "monotone", "color": "black", "strokeWidth": 1, "strokeDash": [7, 4]},
                 "encoding": {"x": {"field": "day", "type": "quantitative"}, "y": {"field": "value", "type": "quantitative"}}},
                {"data": {"values": [{"label": "e"}]},
                 "mark": {"type": "text", "align": "right", "baseline": "alphabetic", "dx": -7, "dy": -9, "fontSize": 32, "fontWeight": "bold", "font": "Liberation Sans", "color": "black"},
                 "encoding": {"x": {"datum": 11, "type": "quantitative"}, "y": {"datum": -40.515, "type": "quantitative"}, "text": {"field": "label"}}}
              ]
            }
          ]
        }
      ]
    }
  ],
  "config": {
    "view": {"stroke": "black", "strokeWidth": 1.5},
    "concat": {"spacing": 0},
    "axis": {"labelFont": "Liberation Sans", "labelFontSize": 24, "labelColor": "black", "tickColor": "black", "tickWidth": 1.3}
  }
}
